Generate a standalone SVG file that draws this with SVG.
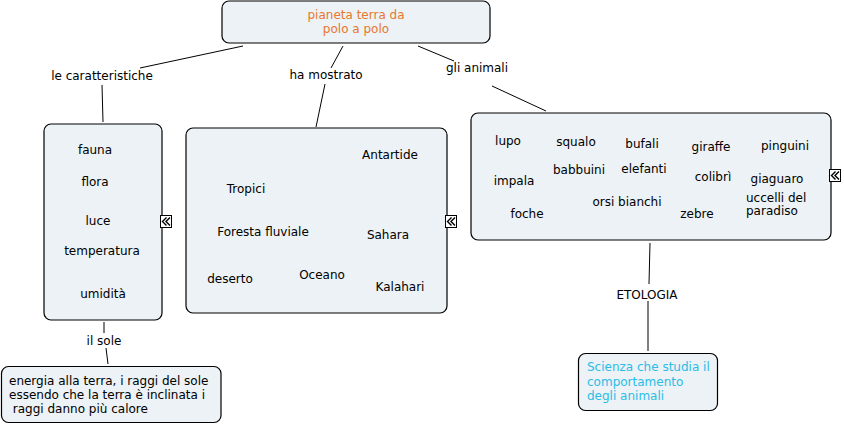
<svg xmlns="http://www.w3.org/2000/svg" width="844" height="425" viewBox="0 0 844 425">
<style>
.n{fill:#ecf2f5;stroke:#000;stroke-width:1.2}
text{font-family:"DejaVu Sans",Verdana,sans-serif;font-size:12px;fill:#000}
.c{text-anchor:middle}
.l{fill:none;stroke:#000;stroke-width:1}
</style>
<defs>
<g id="icon">
<rect x="0.5" y="0.5" width="11" height="12" fill="#fff" stroke="#000" stroke-width="1"/>
<polyline points="6.5,2.5 2.5,6.5 6.5,10.5" fill="none" stroke="#000" stroke-width="1.4"/>
<polyline points="10,2.5 6,6.5 10,10.5" fill="none" stroke="#000" stroke-width="1.4"/>
</g>
</defs>
<rect width="844" height="425" fill="#fff"/>
<g id="connectors">
<line class="l" x1="243" y1="46" x2="140" y2="68"/>
<line class="l" x1="102" y1="85" x2="103" y2="122"/>
<line class="l" x1="343" y1="46" x2="331" y2="68"/>
<line class="l" x1="325" y1="84" x2="316" y2="127"/>
<line class="l" x1="418" y1="46" x2="454" y2="61"/>
<line class="l" x1="492" y1="86" x2="546" y2="111"/>
<line class="l" x1="104" y1="322" x2="104" y2="333"/>
<line class="l" x1="106" y1="348" x2="108" y2="364"/>
<line class="l" x1="650" y1="243" x2="649" y2="284"/>
<line class="l" x1="648" y1="301" x2="648" y2="351"/>
<text class="c" x="102" y="80">le caratteristiche</text>
<text class="c" x="326" y="79">ha mostrato</text>
<text class="c" x="477" y="72">gli animali</text>
<text class="c" x="104" y="345">il sole</text>
<text class="c" x="647" y="299">ETOLOGIA</text>
</g>
<g id="root">
<rect class="n" x="222" y="1" width="268" height="42" rx="7"/>
<text class="c" x="356" y="19" style="fill:#e8772e">pianeta terra da</text>
<text class="c" x="356" y="33" style="fill:#e8772e">polo a polo</text>
</g>
<g id="caratteristiche">
<rect class="n" x="44" y="124" width="118" height="196" rx="7"/>
<text class="c" x="95" y="154">fauna</text>
<text class="c" x="95" y="186">flora</text>
<text class="c" x="98" y="225">luce</text>
<text class="c" x="102" y="255">temperatura</text>
<text class="c" x="103" y="298">umidità</text>
<use href="#icon" x="160" y="215"/>
</g>
<g id="luoghi">
<rect class="n" x="186" y="128" width="261" height="185" rx="7"/>
<text class="c" x="390" y="159">Antartide</text>
<text class="c" x="246" y="193">Tropici</text>
<text class="c" x="263" y="236">Foresta fluviale</text>
<text class="c" x="388" y="239">Sahara</text>
<text class="c" x="230" y="283">deserto</text>
<text class="c" x="322" y="279">Oceano</text>
<text class="c" x="400" y="291">Kalahari</text>
<use href="#icon" x="445" y="215"/>
</g>
<g id="animali">
<rect class="n" x="471" y="113" width="360" height="127" rx="7"/>
<text class="c" x="508" y="145">lupo</text>
<text class="c" x="576" y="146">squalo</text>
<text class="c" x="642" y="148">bufali</text>
<text class="c" x="711" y="151">giraffe</text>
<text class="c" x="785" y="150">pinguini</text>
<text class="c" x="579" y="174">babbuini</text>
<text class="c" x="644" y="173">elefanti</text>
<text class="c" x="514" y="185">impala</text>
<text class="c" x="713" y="181">colibrì</text>
<text class="c" x="777" y="183">giaguaro</text>
<text class="c" x="627" y="206">orsi bianchi</text>
<text class="c" x="527" y="218">foche</text>
<text class="c" x="697" y="218">zebre</text>
<text x="746" y="202">uccelli del</text>
<text x="746" y="215">paradiso</text>
<use href="#icon" x="829" y="169"/>
</g>
<g id="sole">
<rect class="n" x="1.5" y="366.5" width="219.5" height="56" rx="7"/>
<text x="9" y="385">energia alla terra, i raggi del sole</text>
<text x="9" y="399">essendo che la terra è inclinata i</text>
<text x="9" y="413" xml:space="preserve"> raggi danno più calore</text>
</g>
<g id="etologia">
<rect class="n" x="578.5" y="353.5" width="139" height="57" rx="7"/>
<text x="587" y="371" style="fill:#2bbde8">Scienza che studia il</text>
<text x="587" y="386" style="fill:#2bbde8">comportamento</text>
<text x="587" y="400" style="fill:#2bbde8">degli animali</text>
</g>
</svg>
